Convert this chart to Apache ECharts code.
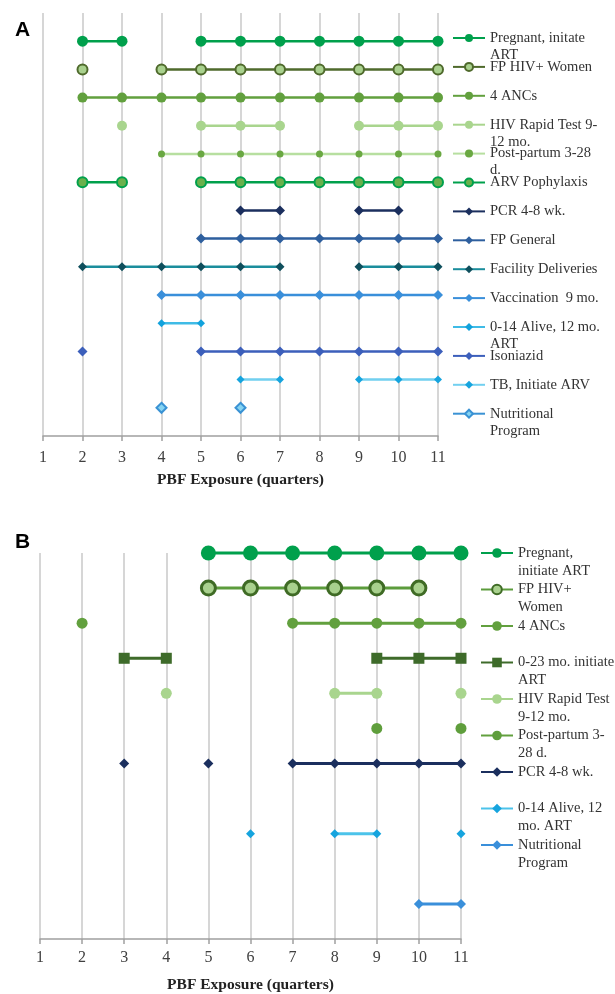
<!DOCTYPE html>
<html>
<head>
<meta charset="utf-8">
<script src="https://cdn.jsdelivr.net/npm/echarts@6/dist/echarts.min.js"></script>
<style>html,body{margin:0;padding:0;background:#fff;}#c{width:615px;height:994px;}</style>
</head>
<body>
<div id="c"></div>
<script>
// ---------------- DATA ----------------
const quarterTicks = [1, 2, 3, 4, 5, 6, 7, 8, 9, 10, 11];

// Panel A indicators (top to bottom)
const namesA = ['Pregnant, initate ART', 'FP HIV+ Women', '4 ANCs', 'HIV Rapid Test 9-12 mo.',
  'Post-partum 3-28 d.', 'ARV Pophylaxis', 'PCR 4-8 wk.', 'FP General', 'Facility Deliveries',
  'Vaccination  9 mo.', '0-14 Alive, 12 mo. ART', 'Isoniazid', 'TB, Initiate ARV', 'Nutritional Program'];
const legendTextA = ['Pregnant, initate\nART', 'FP HIV+ Women', '4 ANCs', 'HIV Rapid Test 9-\n12 mo.',
  'Post-partum 3-28\nd.', 'ARV Pophylaxis', 'PCR 4-8 wk.', 'FP General', 'Facility Deliveries',
  'Vaccination  9 mo.', '0-14 Alive, 12 mo.\nART', 'Isoniazid', 'TB, Initiate ARV', 'Nutritional\nProgram'];
const pregnantA = [2, 3, 5, 6, 7, 8, 9, 10, 11];
const fpHivA = [2, 4, 5, 6, 7, 8, 9, 10, 11];
const ancA = [2, 3, 4, 5, 6, 7, 8, 9, 10, 11];
const rapidTestA = [3, 5, 6, 7, 9, 10, 11];
const postPartumA = [4, 5, 6, 7, 8, 9, 10, 11];
const arvA = [2, 3, 5, 6, 7, 8, 9, 10, 11];
const pcrA = [6, 7, 9, 10];
const fpGeneralA = [5, 6, 7, 8, 9, 10, 11];
const facilityA = [2, 3, 4, 5, 6, 7, 9, 10, 11];
const vaccinationA = [4, 5, 6, 7, 8, 9, 10, 11];
const aliveA = [4, 5];
const isoniazidA = [2, 5, 6, 7, 8, 9, 10, 11];
const tbA = [6, 7, 9, 10, 11];
const nutritionA = [4, 6];
const quartersA = [pregnantA, fpHivA, ancA, rapidTestA, postPartumA, arvA, pcrA, fpGeneralA,
  facilityA, vaccinationA, aliveA, isoniazidA, tbA, nutritionA];

// Panel B indicators
const namesB = ['Pregnant, initiate ART', 'FP HIV+ Women', '4 ANCs', '0-23 mo. initiate ART',
  'HIV Rapid Test 9-12 mo.', 'Post-partum 3-28 d.', 'PCR 4-8 wk.', '0-14 Alive, 12 mo. ART', 'Nutritional Program'];
const legendTextB = ['Pregnant,\ninitiate ART', 'FP HIV+\nWomen', '4 ANCs', '0-23 mo. initiate\nART',
  'HIV Rapid Test\n9-12 mo.', 'Post-partum 3-\n28 d.', 'PCR 4-8 wk.', '0-14 Alive, 12\nmo. ART', 'Nutritional\nProgram'];
const pregnantB = [5, 6, 7, 8, 9, 10, 11];
const fpHivB = [5, 6, 7, 8, 9, 10];
const ancB = [2, 7, 8, 9, 10, 11];
const artB = [3, 4, 9, 10, 11];
const rapidTestB = [4, 8, 9, 11];
const postPartumB = [9, 11];
const pcrB = [3, 5, 7, 8, 9, 10, 11];
const aliveB = [6, 8, 9, 11];
const nutritionB = [10, 11];
const quartersB = [pregnantB, fpHivB, ancB, artB, rapidTestB, postPartumB, pcrB, aliveB, nutritionB];

const axisTitle = 'PBF Exposure (quarters)';

// ---------------- STYLES / LAYOUT ----------------
const stylesA = [
  {line: '#00a04c', fill: '#00a04c', border: null, sym: 'circle', size: 11},
  {line: '#4f6a2c', fill: '#a9d18e', border: '#4f6a2c', sym: 'circle', size: 10},
  {line: '#62a03e', fill: '#62a03e', border: null, sym: 'circle', size: 10},
  {line: '#a9d58e', fill: '#a9d58e', border: null, sym: 'circle', size: 10},
  {line: '#b7dfa0', fill: '#6aa842', border: null, sym: 'circle', size: 7},
  {line: '#00a04c', fill: '#6ab04c', border: '#00a04c', sym: 'circle', size: 10},
  {line: '#1b2f5e', fill: '#1b2f5e', border: null, sym: 'diamond', size: 10},
  {line: '#2e5f9e', fill: '#2e5f9e', border: null, sym: 'diamond', size: 10},
  {line: '#1b8d9c', fill: '#0f4f5d', border: null, sym: 'diamond', size: 9},
  {line: '#3a8fda', fill: '#3a8fda', border: null, sym: 'diamond', size: 10},
  {line: '#3fbbe6', fill: '#12a2dc', border: null, sym: 'diamond', size: 8},
  {line: '#3c5fbb', fill: '#3c5fbb', border: null, sym: 'diamond', size: 10},
  {line: '#72d0f0', fill: '#16a4de', border: null, sym: 'diamond', size: 8},
  {line: '#3a92d4', fill: '#86d4f2', border: '#3a92d4', sym: 'diamond', size: 10}
];
const stylesB = [
  {line: '#00a04c', fill: '#00a04c', border: null, sym: 'circle', size: 15},
  {line: '#5c9c3c', fill: '#a9d18e', border: '#3f6b25', sym: 'circle', size: 14},
  {line: '#62a03e', fill: '#62a03e', border: null, sym: 'circle', size: 11},
  {line: '#3e6b2a', fill: '#3e6b2a', border: null, sym: 'rect', size: 11},
  {line: '#a9d58e', fill: '#a9d58e', border: null, sym: 'circle', size: 11},
  {line: '#62a03e', fill: '#5f9e3c', border: null, sym: 'circle', size: 11},
  {line: '#1b2f5e', fill: '#1b2f5e', border: null, sym: 'diamond', size: 10},
  {line: '#4cc3ea', fill: '#16a4de', border: null, sym: 'diamond', size: 9},
  {line: '#3a8fda', fill: '#3a8fda', border: null, sym: 'diamond', size: 10}
];
const rowSlotB = [0, 1, 2, 3, 4, 5, 6, 8, 10];

const serif = 'Liberation Serif';

function buildData(qs, yVal) {
  return quarterTicks.map(q => qs.indexOf(q) >= 0 ? [q, yVal] : [q, '-']);
}

const series = [];
const legends = [];
const labelMap = {};

function addLegend(key, text, cy, left, itemH, lh) {
  const lines = text.split('\n').length;
  // leading blank lines keep the first text line level with the legend symbol
  labelMap[key] = '\n'.repeat(lines - 1) + text;
  const half = (2 * lines - 1) * lh / 2;
  legends.push({
    data: [key], left: left, top: cy - Math.max(half, itemH / 2), padding: 0,
    itemWidth: 32, itemHeight: itemH, selectedMode: false,
    formatter: nm => labelMap[nm],
    textStyle: {fontFamily: serif, fontSize: 14.5, color: '#333', lineHeight: lh}
  });
}

namesA.forEach((n, i) => {
  const key = 'A|' + n;
  const s = stylesA[i];
  series.push({
    name: key, type: 'line', xAxisIndex: 0, yAxisIndex: 0,
    data: buildData(quartersA[i], 14 - i),
    symbol: s.sym, symbolSize: s.size, showSymbol: true, showAllSymbol: true,
    connectNulls: false, clip: false, silent: true,
    lineStyle: {color: s.line, width: 2.5},
    itemStyle: {color: s.fill, borderColor: s.border || s.fill, borderWidth: s.border ? 2 : 0},
    emphasis: {disabled: true}
  });
  addLegend(key, legendTextA[i], 38 + i * 28.9, 452, 10, 17);
});

namesB.forEach((n, i) => {
  const key = 'B|' + n;
  const s = stylesB[i];
  series.push({
    name: key, type: 'line', xAxisIndex: 1, yAxisIndex: 1,
    data: buildData(quartersB[i], 11 - rowSlotB[i]),
    symbol: s.sym, symbolSize: s.size, showSymbol: true, showAllSymbol: true,
    connectNulls: false, clip: false, silent: true,
    lineStyle: {color: s.line, width: 3},
    itemStyle: {color: s.fill, borderColor: s.border || s.fill, borderWidth: s.border ? 3 : 0},
    emphasis: {disabled: true}
  });
  addLegend(key, legendTextB[i], 553 + i * 36.5, 480, 12, 18);
});

function xAxisCfg(grid, gap, margin) {
  return {
    type: 'value', gridIndex: grid, min: 1, max: 11, interval: 1,
    name: axisTitle, nameLocation: 'middle', nameGap: gap,
    nameTextStyle: {fontFamily: serif, fontWeight: 'bold', fontSize: 15.5, color: '#222'},
    axisLine: {show: true, lineStyle: {color: '#a0a0a0', width: 1.5}},
    axisTick: {show: true, inside: false, length: 5, lineStyle: {color: '#a0a0a0', width: 1.5}},
    axisLabel: {fontFamily: serif, fontSize: 16, color: '#404040', margin: margin},
    splitLine: {show: true, lineStyle: {color: '#c8c8c8', width: 1.5}}
  };
}

const chart = echarts.init(document.getElementById('c'), null, {renderer: 'canvas'});
chart.setOption({
  animation: false,
  backgroundColor: '#fff',
  title: [
    {text: 'A', left: 10, top: 15, textStyle: {fontFamily: 'Liberation Sans', fontWeight: 'bold', fontSize: 21, color: '#000'}},
    {text: 'B', left: 10, top: 527, textStyle: {fontFamily: 'Liberation Sans', fontWeight: 'bold', fontSize: 21, color: '#000'}}
  ],
  grid: [
    {left: 43, width: 395, top: 13, height: 423},
    {left: 40, width: 421, top: 553, height: 387}
  ],
  xAxis: [xAxisCfg(0, 36, 14), xAxisCfg(1, 38, 11)],
  yAxis: [
    {type: 'value', gridIndex: 0, min: 0, max: 15, show: false},
    {type: 'value', gridIndex: 1, min: 0, max: 11, show: false}
  ],
  legend: legends,
  series: series
});
</script>
</body>
</html>
